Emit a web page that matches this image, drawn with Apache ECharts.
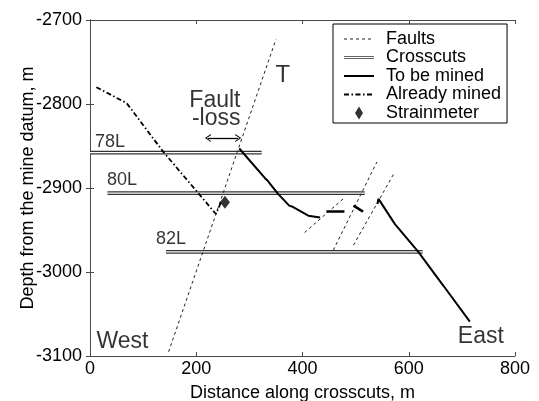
<!DOCTYPE html>
<html>
<head>
<meta charset="utf-8">
<script src="https://cdn.jsdelivr.net/npm/echarts@6/dist/echarts.min.js"></script>
<style>
  html, body { margin: 0; padding: 0; background: #fff; }
  #chart { width: 539px; height: 401px; }
</style>
</head>
<body>
<div id="chart"></div>
<script>
// Axis ticks (m)
const xTicks = [0, 200, 400, 600, 800];
const yTicks = [-3100, -3000, -2900, -2800, -2700];

// Faults: [distance, depth] end points
const faultT = [[148, -3095], [350, -2723]];
const faultA = [[404, -2953], [480, -2911]];
const faultB = [[458, -2974], [540, -2869]];
const faultC = [[496, -2968], [571, -2884]];

// Crosscut levels
const levelNames = ['78L', '80L', '82L'];
const levelDepth = [-2858, -2906, -2976];
const levelStart = [0, 33, 143];
const levelEnd = [323, 517, 626];

// Reef still to be mined
const toBeMinedWest = [[281, -2853], [329, -2888], [334, -2891], [339, -2895], [354, -2907],
  [375, -2921], [380, -2922], [411, -2933], [433, -2935]];
const toBeMinedEast = [[541, -2919], [543, -2913], [574, -2943], [618, -2976], [666, -3017], [715, -3059]];

// Reef already mined
const alreadyMined = [[12, -2780], [69, -2799], [107, -2831], [138, -2857], [205, -2907],
  [237, -2931], [248, -2915]];
const minedBlocks = [
  [[445, -2928], [479, -2928]],
  [[496, -2921], [514, -2928]]
];

// Strainmeter site
const strainmeter = [[254, -2917]];

// Fault-loss span
const faultLoss = [222, 279];
const faultLossDepth = -2840.5;

// Text notes: [text, distance, depth, side]
const notes = [
  ['78L', 9.4, -2845, 'right'],
  ['80L', 32, -2891, 'right'],
  ['82L', 124, -2961, 'right'],
  ['Fault', 283.3, -2796, 'left'],
  ['-loss', 283.3, -2817, 'left'],
  ['T', 349, -2765.5, 'right'],
  ['West', 12.2, -3083, 'right'],
  ['East', 779, -3077, 'left']
];
const noteSize = { '78L': 18, '80L': 18, '82L': 18, 'T': 24 };

const FONT = 'Liberation Sans, Arial, Helvetica, sans-serif';
const AXIS_COLOR = '#4a4a4a';

const chart = echarts.init(document.getElementById('chart'), null, { renderer: 'canvas' });

const series = [];

// Crosscuts: dark band with a white core, giving a double line
levelNames.forEach((lv, i) => {
  series.push({
    name: 'Crosscuts', type: 'line', symbol: 'none', silent: true,
    color: '#333',
    lineStyle: { color: '#333', width: 3.8 },
    data: [[levelStart[i], levelDepth[i]], [levelEnd[i], levelDepth[i]]],
    z: 2
  });
  series.push({
    name: 'crosscut core', type: 'line', symbol: 'none', silent: true,
    lineStyle: { color: '#ffffff', width: 1.3 },
    data: [[levelStart[i], levelDepth[i]], [levelEnd[i], levelDepth[i]]],
    z: 3
  });
});

// Faults
[faultT, faultA, faultB, faultC].forEach(f => {
  series.push({
    name: 'Faults', type: 'line', symbol: 'none', silent: true,
    color: '#222',
    lineStyle: { color: '#222', width: 1, type: [3, 3] },
    data: f, z: 4
  });
});

// To be mined
[toBeMinedWest, toBeMinedEast].forEach(seg => {
  series.push({
    name: 'To be mined', type: 'line', symbol: 'none', silent: true,
    color: '#000',
    lineStyle: { color: '#000', width: 2 },
    data: seg, z: 5
  });
});

// Already mined
series.push({
  name: 'Already mined', type: 'line', symbol: 'none', silent: true,
  color: '#000',
  lineStyle: { color: '#000', width: 1.8, type: [5, 2.5, 1.5, 2.5] },
  data: alreadyMined, z: 5
});
minedBlocks.forEach(seg => {
  series.push({
    name: 'Already mined', type: 'line', symbol: 'none', silent: true,
    color: '#000',
    lineStyle: { color: '#000', width: 2.6 },
    data: seg, z: 5
  });
});

// Strainmeter
series.push({
  name: 'Strainmeter', type: 'scatter', silent: true,
  symbol: 'diamond', symbolSize: [10, 13],
  itemStyle: { color: '#000' },
  data: strainmeter, z: 6
});

// Notes and the fault-loss arrow
const chevron = 'path://M0,10 L5,0 L10,10 L8.6,10 L5,2.8 L1.4,10 Z';
series.push({
  name: 'notes', type: 'scatter', silent: true,
  symbolSize: 0,
  data: notes.map(n => ({
    value: [n[1], n[2]],
    label: {
      show: true, formatter: n[0], position: n[3], distance: 0,
      color: '#000', fontFamily: FONT, fontSize: noteSize[n[0]] || 23
    }
  })),
  markLine: {
    silent: true,
    symbol: [chevron, chevron],
    symbolSize: [8, 6],
    label: { show: false },
    lineStyle: { color: '#000', width: 1.3, type: 'solid' },
    data: [[{ coord: [faultLoss[0], faultLossDepth] }, { coord: [faultLoss[1], faultLossDepth] }]]
  },
  z: 7
});

const axisCommon = {
  type: 'value',
  axisLine: { show: true, lineStyle: { color: AXIS_COLOR, width: 1 } },
  axisTick: { show: true, inside: true, length: 4, lineStyle: { color: AXIS_COLOR } },
  splitLine: { show: false }
};

// line-only legend entries: hide the marker drawn in the middle of the sample
const noMarker = { color: 'rgba(0,0,0,0)', borderWidth: 0 };

chart.setOption({
  animation: false,
  backgroundColor: '#fff',
  textStyle: { fontFamily: FONT },
  grid: { left: 90, right: 24, top: 20, bottom: 45, containLabel: false, outerBoundsMode: 'none' },
  legend: {
    orient: 'vertical',
    left: 333, top: 24,
    padding: [6, 6, 1, 10],
    backgroundColor: '#fff',
    borderColor: '#000', borderWidth: 1,
    itemWidth: 30, itemHeight: 13, itemGap: 0.5,
    selectedMode: false,
    lineStyle: { width: 'inherit' },
    textStyle: { fontFamily: FONT, fontSize: 18, color: '#000', lineHeight: 18, padding: [0, 0, 0, 7] },
    data: [
      { name: 'Faults', itemStyle: noMarker },
      { name: 'Crosscuts', icon: 'path://M0 0H40V1.1H0Z M0 3H40V4.1H0Z' },
      { name: 'To be mined', itemStyle: noMarker },
      { name: 'Already mined', itemStyle: noMarker },
      { name: 'Strainmeter', icon: 'path://M4 0L8 6.5L4 13L0 6.5Z' }
    ]
  },
  xAxis: [
    Object.assign({}, axisCommon, {
      position: 'bottom',
      min: xTicks[0], max: xTicks[xTicks.length - 1], interval: xTicks[1] - xTicks[0],
      name: 'Distance along crosscuts, m',
      nameLocation: 'middle', nameGap: 28, nameMoveOverlap: false,
      nameTextStyle: { fontFamily: FONT, fontSize: 18, color: '#000' },
      axisLabel: { show: true, margin: 4, color: '#000', fontFamily: FONT, fontSize: 18, formatter: v => String(v) }
    }),
    Object.assign({}, axisCommon, {
      position: 'top',
      min: xTicks[0], max: xTicks[xTicks.length - 1], interval: xTicks[1] - xTicks[0],
      axisLabel: { show: false }
    })
  ],
  yAxis: [
    Object.assign({}, axisCommon, {
      position: 'left',
      min: yTicks[0], max: yTicks[yTicks.length - 1], interval: yTicks[1] - yTicks[0],
      name: 'Depth from the mine datum, m',
      nameLocation: 'middle', nameGap: 53, nameMoveOverlap: false,
      nameTextStyle: { fontFamily: FONT, fontSize: 18, color: '#000' },
      axisLabel: { show: true, margin: 8, color: '#000', fontFamily: FONT, fontSize: 18, formatter: v => String(v) }
    }),
    Object.assign({}, axisCommon, {
      position: 'right',
      min: yTicks[0], max: yTicks[yTicks.length - 1], interval: yTicks[1] - yTicks[0],
      axisLabel: { show: false }
    })
  ],
  series: series
});
</script>
</body>
</html>
